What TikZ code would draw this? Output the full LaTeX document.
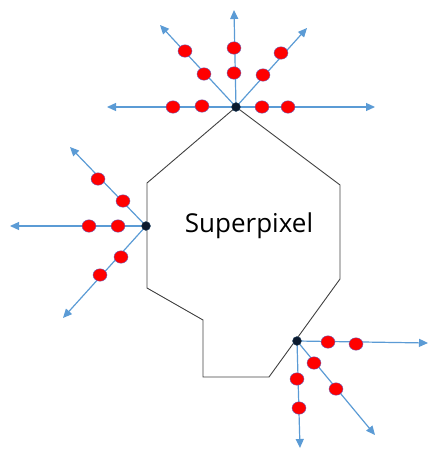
\documentclass[tikz,border=0pt]{standalone}
\usepackage{fontspec}
\setmainfont{Open Sans}
\usetikzlibrary{arrows.meta,shapes.geometric}
\definecolor{arrowblue}{HTML}{5B9BD5}
\definecolor{dotred}{HTML}{FF0000}
\definecolor{vtx}{HTML}{0B1A2E}
\begin{document}
\begin{tikzpicture}[x=1pt,y=-1pt,
  ray/.style={draw=arrowblue,line width=1.2pt,-{Triangle[length=9pt,width=8pt]}},
  reddot/.style={ellipse,draw=black!40!blue!60,line width=0.4pt,fill=dotred,minimum width=14pt,minimum height=12.5pt,inner sep=0pt},
  vertexdot/.style={circle,fill=vtx,draw=arrowblue!50!black,line width=0.4pt,minimum size=9pt,inner sep=0pt},
  edge/.style={draw=black!75,line width=0.9pt}]
\useasboundingbox (0,0) rectangle (428,455);
% polygon
\coordinate (p1) at (236,107);
\coordinate (p2) at (147,183);
\coordinate (p3) at (147,288);
\coordinate (p4) at (203,320);
\coordinate (p5) at (203,377);
\coordinate (p6) at (269,377);
\coordinate (p7) at (340,279);
\coordinate (p8) at (340,185);
\draw[edge] (p1) -- (p2) -- (p3) -- (p4) -- (p5) -- (p6) -- (p7) -- (p8) -- cycle;
\node[font=\fontsize{26}{29}\selectfont] (label) at (249,226) {Superpixel};
% vertices
\coordinate (v1) at (236,107);
\coordinate (v2) at (146,226);
\coordinate (v3) at (297,341);
% ray ends
\coordinate (a1) at (107,107);
\coordinate (a2) at (375,107);
\coordinate (a3) at (234,10);
\coordinate (a4) at (160,25);
\coordinate (a5) at (307,28);
\coordinate (b1) at (10,226);
\coordinate (b2) at (70,147);
\coordinate (b3) at (63,318);
\coordinate (c1) at (428,343);
\coordinate (c2) at (300,448);
\coordinate (c3) at (375,435);
\foreach \e in {a1,a2,a3,a4,a5} \draw[ray] (v1) -- (\e);
\foreach \e in {b1,b2,b3} \draw[ray] (v2) -- (\e);
\foreach \e in {c1,c2,c3} \draw[ray] (v3) -- (\e);
% red dots
\node[reddot] (d1) at (173,107) {};
\node[reddot] (d2) at (202,106) {};
\node[reddot] (d3) at (262,107) {};
\node[reddot] (d4) at (288,107) {};
\node[reddot] (d5) at (234,73) {};
\node[reddot] (d6) at (234,48) {};
\node[reddot] (d7) at (204,74) {};
\node[reddot] (d8) at (185,51) {};
\node[reddot] (d9) at (263,75) {};
\node[reddot] (d10) at (281,53) {};
\node[reddot] (d11) at (89,226) {};
\node[reddot] (d12) at (118,226) {};
\node[reddot] (d13) at (123,201) {};
\node[reddot] (d14) at (98,179) {};
\node[reddot] (d15) at (121,257) {};
\node[reddot] (d16) at (100,275) {};
\node[reddot] (d17) at (328,342) {};
\node[reddot] (d18) at (356,344) {};
\node[reddot] (d19) at (297,379) {};
\node[reddot] (d20) at (299,408) {};
\node[reddot] (d21) at (314,363) {};
\node[reddot] (d22) at (336,389) {};
% vertex dots
\node[vertexdot] (n1) at (v1) {};
\node[vertexdot] (n2) at (v2) {};
\node[vertexdot] (n3) at (v3) {};
\end{tikzpicture}
\end{document}
